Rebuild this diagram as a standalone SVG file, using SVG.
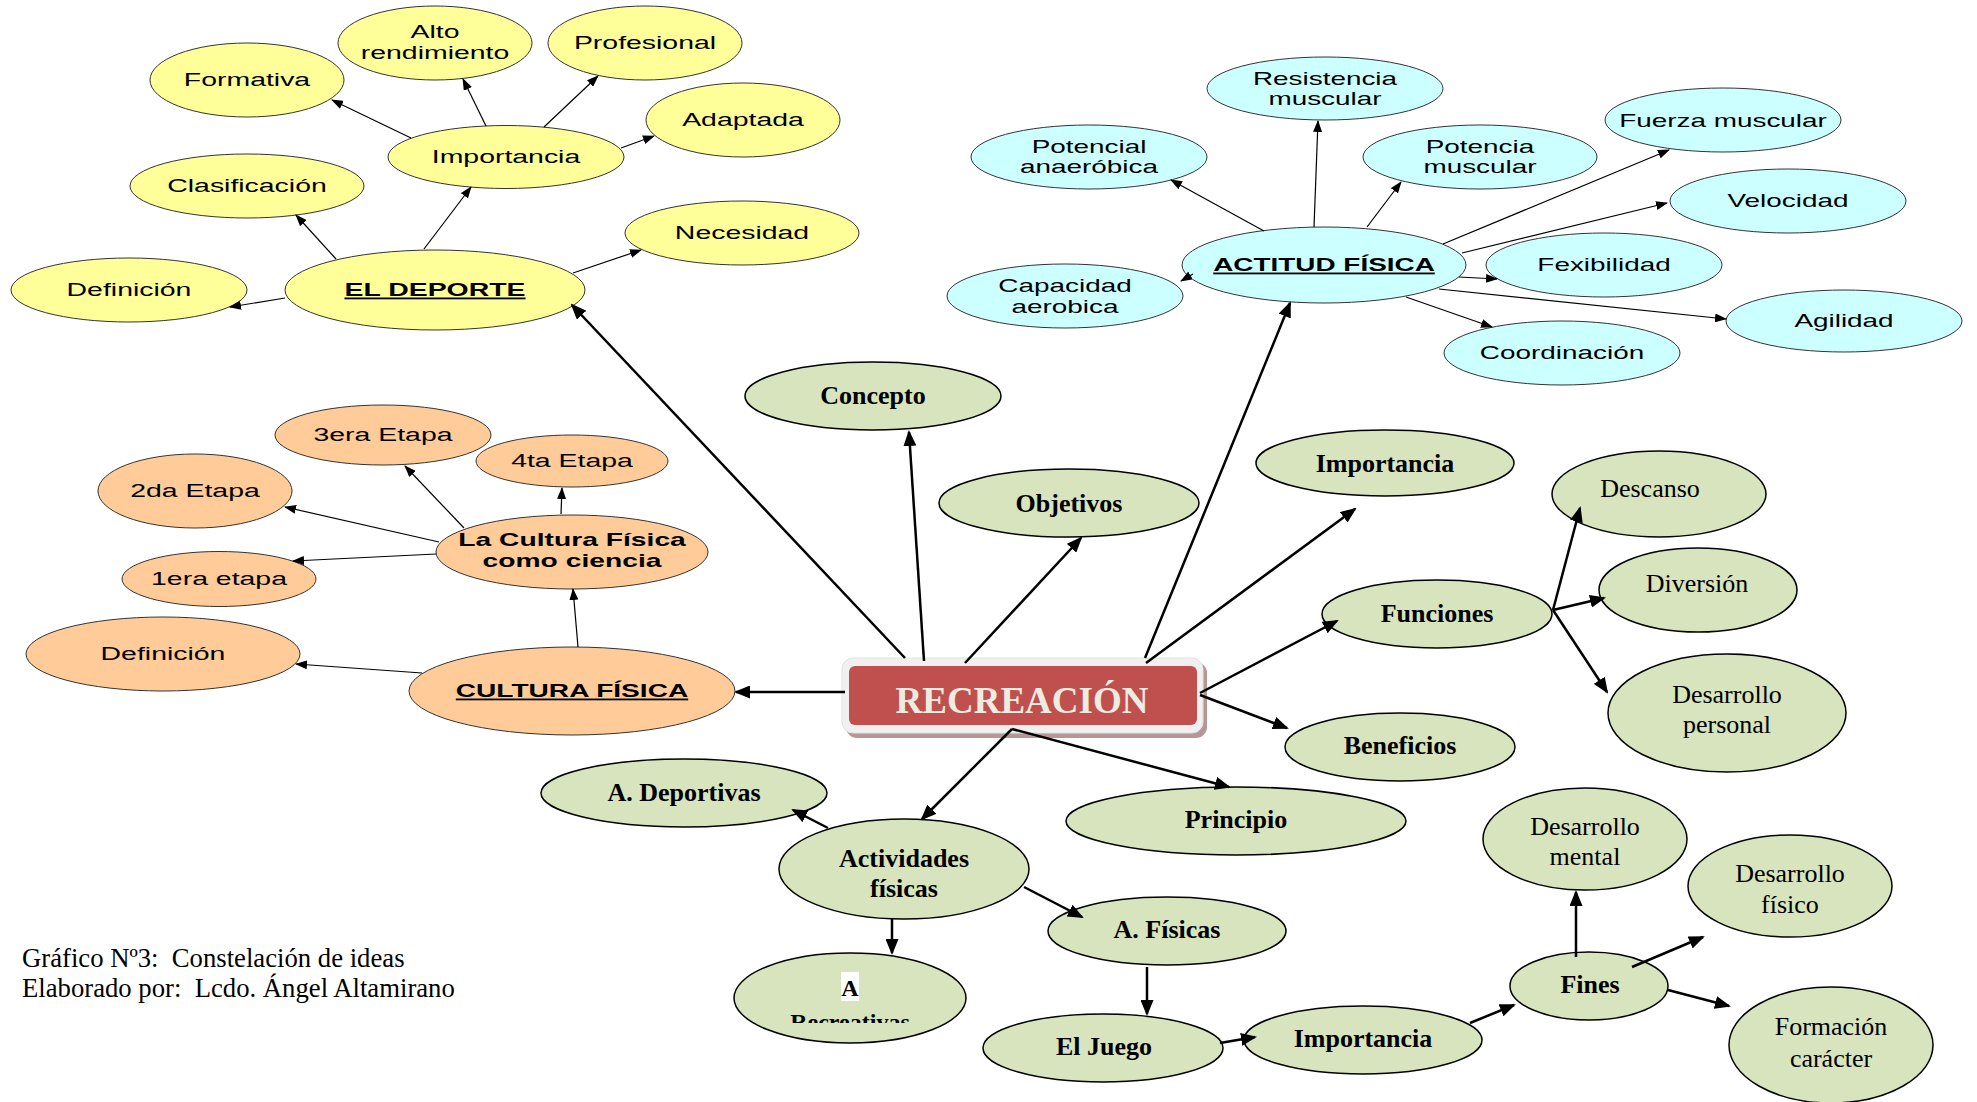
<svg xmlns="http://www.w3.org/2000/svg" width="1977" height="1102" viewBox="0 0 1977 1102">
<style>
.y{fill:#FFFF99;stroke:#333;stroke-width:1}
.b{fill:#CCFFFF;stroke:#333;stroke-width:1}
.o{fill:#FFCC99;stroke:#333;stroke-width:1}
.g{fill:#D7E4BD;stroke:#000;stroke-width:1.5}
.s{font-family:"Liberation Sans",Arial,sans-serif;font-size:18px;fill:#000;text-anchor:middle}
.sb{font-family:"Liberation Sans",Arial,sans-serif;font-size:18px;font-weight:bold;fill:#000;text-anchor:middle}
.u{text-decoration:underline}
.t{font-family:"Liberation Serif","Times New Roman",serif;font-size:26px;font-weight:bold;fill:#000;text-anchor:middle}
.tr{font-family:"Liberation Serif","Times New Roman",serif;font-size:26px;fill:#000;text-anchor:middle}
.cap{font-family:"Liberation Serif","Times New Roman",serif;font-size:26.7px;fill:#000;white-space:pre}
.thin{stroke:#000;stroke-width:1.2;fill:none;marker-end:url(#ah)}
.thick{stroke:#000;stroke-width:2.5;fill:none;marker-end:url(#AH)}
</style>
<defs>
<marker id="ah" viewBox="0 0 12 9" markerWidth="12" markerHeight="9" refX="11" refY="4.5" orient="auto" markerUnits="userSpaceOnUse"><path d="M0,0 L12,4.5 L0,9 z" fill="#000"/></marker>
<marker id="AH" viewBox="0 0 16 13" markerWidth="16" markerHeight="13" refX="14" refY="6.5" orient="auto" markerUnits="userSpaceOnUse"><path d="M0,0 L16,6.5 L0,13 z" fill="#000"/></marker>
<clipPath id="clipRec"><rect x="720" y="940" width="260" height="83"/></clipPath>
</defs>
<rect width="1977" height="1102" fill="#fff"/>

<!-- Yellow: El deporte -->
<g id="y-formativa"><ellipse class="y" cx="247" cy="80" rx="97" ry="37"/><text class="s" transform="translate(247 86) scale(1.58 1)">Formativa</text></g>
<g id="y-alto"><ellipse class="y" cx="435" cy="43" rx="97" ry="37"/><text class="s" transform="translate(435 38) scale(1.58 1)">Alto</text><text class="s" transform="translate(435 59) scale(1.58 1)">rendimiento</text></g>
<g id="y-profesional"><ellipse class="y" cx="645" cy="43" rx="97" ry="37"/><text class="s" transform="translate(645 49) scale(1.58 1)">Profesional</text></g>
<g id="y-adaptada"><ellipse class="y" cx="743" cy="120" rx="97" ry="37"/><text class="s" transform="translate(743 126) scale(1.58 1)">Adaptada</text></g>
<g id="y-importancia"><ellipse class="y" cx="506" cy="157" rx="118" ry="31.5"/><text class="s" transform="translate(506 163) scale(1.58 1)">Importancia</text></g>
<g id="y-clasificacion"><ellipse class="y" cx="247" cy="186" rx="117" ry="32"/><text class="s" transform="translate(247 192) scale(1.58 1)">Clasificación</text></g>
<g id="y-necesidad"><ellipse class="y" cx="742" cy="233" rx="117" ry="32"/><text class="s" transform="translate(742 239) scale(1.58 1)">Necesidad</text></g>
<g id="y-definicion"><ellipse class="y" cx="129" cy="290" rx="118" ry="32"/><text class="s" transform="translate(129 296) scale(1.58 1)">Definición</text></g>
<g id="y-deporte"><ellipse class="y" cx="435" cy="290" rx="150" ry="40"/><text class="sb u" transform="translate(435 296) scale(1.58 1)">EL DEPORTE</text></g>

<!-- Blue: Actitud física -->
<g id="b-resistencia"><ellipse class="b" cx="1325" cy="88.5" rx="118" ry="31.5"/><text class="s" transform="translate(1325 85) scale(1.55 1)">Resistencia</text><text class="s" transform="translate(1325 105) scale(1.55 1)">muscular</text></g>
<g id="b-potencial"><ellipse class="b" cx="1089" cy="157" rx="118" ry="32"/><text class="s" transform="translate(1089 153) scale(1.55 1)">Potencial</text><text class="s" transform="translate(1089 173) scale(1.55 1)">anaeróbica</text></g>
<g id="b-potencia"><ellipse class="b" cx="1480" cy="157" rx="117" ry="32"/><text class="s" transform="translate(1480 153) scale(1.55 1)">Potencia</text><text class="s" transform="translate(1480 173) scale(1.55 1)">muscular</text></g>
<g id="b-fuerza"><ellipse class="b" cx="1723" cy="120" rx="118" ry="32"/><text class="s" transform="translate(1723 127) scale(1.55 1)">Fuerza muscular</text></g>
<g id="b-velocidad"><ellipse class="b" cx="1788" cy="201" rx="118" ry="32"/><text class="s" transform="translate(1788 207) scale(1.55 1)">Velocidad</text></g>
<g id="b-actitud"><ellipse class="b" cx="1324" cy="265" rx="142" ry="38"/><text class="sb u" transform="translate(1324 271) scale(1.55 1)">ACTITUD FÍSICA</text></g>
<g id="b-fexibilidad"><ellipse class="b" cx="1604" cy="265" rx="118" ry="32"/><text class="s" transform="translate(1604 271) scale(1.55 1)">Fexibilidad</text></g>
<g id="b-capacidad"><ellipse class="b" cx="1065" cy="296" rx="118" ry="32"/><text class="s" transform="translate(1065 292) scale(1.55 1)">Capacidad</text><text class="s" transform="translate(1065 313) scale(1.55 1)">aerobica</text></g>
<g id="b-agilidad"><ellipse class="b" cx="1844" cy="321" rx="118" ry="31"/><text class="s" transform="translate(1844 327) scale(1.55 1)">Agilidad</text></g>
<g id="b-coordinacion"><ellipse class="b" cx="1562" cy="353" rx="118" ry="32"/><text class="s" transform="translate(1562 359) scale(1.55 1)">Coordinación</text></g>

<!-- Orange: Cultura física -->
<g id="o-3era"><ellipse class="o" cx="383" cy="435" rx="108" ry="30"/><text class="s" transform="translate(383 441) scale(1.58 1)">3era Etapa</text></g>
<g id="o-4ta"><ellipse class="o" cx="572" cy="461" rx="96" ry="26"/><text class="s" transform="translate(572 467) scale(1.58 1)">4ta Etapa</text></g>
<g id="o-2da"><ellipse class="o" cx="195" cy="491" rx="97" ry="37"/><text class="s" transform="translate(195 497) scale(1.58 1)">2da Etapa</text></g>
<g id="o-ciencia"><ellipse class="o" cx="572" cy="552" rx="136" ry="37"/><text class="sb" transform="translate(572 546) scale(1.57 1)">La Cultura Física</text><text class="sb" transform="translate(572 567) scale(1.57 1)">como ciencia</text></g>
<g id="o-1era"><ellipse class="o" cx="219" cy="579" rx="97" ry="27.5"/><text class="s" transform="translate(219 585) scale(1.58 1)">1era etapa</text></g>
<g id="o-definicion"><ellipse class="o" cx="163" cy="654" rx="137" ry="37"/><text class="s" transform="translate(163 660) scale(1.58 1)">Definición</text></g>
<g id="o-cultura"><ellipse class="o" cx="572" cy="691" rx="163" ry="44"/><text class="sb u" transform="translate(572 697) scale(1.56 1)">CULTURA FÍSICA</text></g>

<!-- Green nodes -->
<g id="g-concepto"><ellipse class="g" cx="873" cy="396" rx="128" ry="34"/><text class="t" x="873" y="404">Concepto</text></g>
<g id="g-objetivos"><ellipse class="g" cx="1069" cy="503" rx="130" ry="34"/><text class="t" x="1069" y="512">Objetivos</text></g>
<g id="g-importancia"><ellipse class="g" cx="1385" cy="463" rx="129" ry="33"/><text class="t" x="1385" y="472">Importancia</text></g>
<g id="g-funciones"><ellipse class="g" cx="1437" cy="614" rx="115" ry="34"/><text class="t" x="1437" y="622">Funciones</text></g>
<g id="g-beneficios"><ellipse class="g" cx="1400" cy="747" rx="115" ry="34"/><text class="t" x="1400" y="754">Beneficios</text></g>
<g id="g-descanso"><ellipse class="g" cx="1659" cy="494" rx="107" ry="43"/><text class="tr" x="1650" y="497">Descanso</text></g>
<g id="g-diversion"><ellipse class="g" cx="1698" cy="590" rx="99" ry="42"/><text class="tr" x="1697" y="592">Diversión</text></g>
<g id="g-desperso"><ellipse class="g" cx="1727" cy="713" rx="119" ry="59"/><text class="tr" x="1727" y="703">Desarrollo</text><text class="tr" x="1727" y="733">personal</text></g>
<g id="g-principio"><ellipse class="g" cx="1236" cy="821" rx="170" ry="34"/><text class="t" x="1236" y="828">Principio</text></g>
<g id="g-adeportivas"><ellipse class="g" cx="684" cy="793" rx="143" ry="34"/><text class="t" x="684" y="801">A. Deportivas</text></g>
<g id="g-actividades"><ellipse class="g" cx="904" cy="869" rx="125" ry="50"/><text class="t" x="904" y="867">Actividades</text><text class="t" x="904" y="897">físicas</text></g>
<g id="g-arecreativas"><ellipse class="g" cx="850" cy="998" rx="116" ry="45"/><rect x="841" y="972" width="18" height="29" fill="#fff"/><text class="t" x="850" y="996" style="font-size:24px">A</text><text class="t" x="850" y="1030" style="font-size:24px" clip-path="url(#clipRec)">Recreativas</text></g>
<g id="g-afisicas"><ellipse class="g" cx="1167" cy="931" rx="119" ry="34"/><text class="t" x="1167" y="938">A. Físicas</text></g>
<g id="g-juego"><ellipse class="g" cx="1103" cy="1048" rx="120" ry="34"/><text class="t" x="1104" y="1055">El Juego</text></g>
<g id="g-importancia2"><ellipse class="g" cx="1363" cy="1040" rx="119" ry="34"/><text class="t" x="1363" y="1047">Importancia</text></g>
<g id="g-fines"><ellipse class="g" cx="1589" cy="986" rx="79" ry="34"/><text class="t" x="1590" y="993">Fines</text></g>
<g id="g-desmental"><ellipse class="g" cx="1585" cy="839" rx="102" ry="51"/><text class="tr" x="1585" y="835">Desarrollo</text><text class="tr" x="1585" y="865">mental</text></g>
<g id="g-desfisico"><ellipse class="g" cx="1790" cy="886" rx="102" ry="51"/><text class="tr" x="1790" y="882">Desarrollo</text><text class="tr" x="1790" y="913">físico</text></g>
<g id="g-formacion"><ellipse class="g" cx="1831" cy="1045" rx="102" ry="58"/><text class="tr" x="1831" y="1035">Formación</text><text class="tr" x="1831" y="1067">carácter</text></g>

<!-- Central node -->
<g id="recreacion">
<rect x="846" y="662" width="361" height="76" rx="11" fill="#B89696"/>
<rect x="842" y="658" width="361" height="75" rx="11" fill="#F0F0F0" stroke="#E2E2E2"/>
<rect x="849" y="666" width="348" height="59" rx="6" fill="#C0504D"/>
<text x="1022" y="713" text-anchor="middle" style="font-family:'Liberation Serif','Times New Roman',serif;font-size:37px;font-weight:bold;fill:#EEECE1">RECREACIÓN</text>
</g>

<!-- Connectors -->
<g id="connectors">
<line class="thin" x1="411" y1="138" x2="332" y2="100"/>
<line class="thin" x1="486" y1="126" x2="463" y2="79"/>
<line class="thin" x1="544" y1="127" x2="598" y2="76"/>
<line class="thin" x1="621" y1="148" x2="654" y2="136"/>
<line class="thin" x1="424" y1="249" x2="471" y2="187"/>
<line class="thin" x1="336" y1="259" x2="296" y2="215"/>
<line class="thin" x1="285" y1="298" x2="230" y2="307"/>
<line class="thin" x1="573" y1="273" x2="641" y2="250"/>

<line class="thin" x1="1264" y1="231" x2="1171" y2="180"/>
<line class="thin" x1="1314" y1="227" x2="1318" y2="121"/>
<line class="thin" x1="1367" y1="227" x2="1401" y2="182"/>
<line class="thin" x1="1443" y1="244" x2="1669" y2="150"/>
<line class="thin" x1="1462" y1="253" x2="1667" y2="203"/>
<line class="thin" x1="1459" y1="277" x2="1497" y2="279"/>
<line class="thin" x1="1439" y1="289" x2="1726" y2="319"/>
<line class="thin" x1="1406" y1="297" x2="1492" y2="327"/>
<line class="thin" x1="1193" y1="274" x2="1181" y2="281"/>

<line class="thin" x1="464" y1="528" x2="405" y2="466"/>
<line class="thin" x1="561" y1="514" x2="562" y2="488"/>
<line class="thin" x1="439" y1="542" x2="285" y2="507"/>
<line class="thin" x1="436" y1="554" x2="293" y2="561"/>
<line class="thin" x1="578" y1="647" x2="573" y2="589"/>
<line class="thin" x1="422" y1="673" x2="296" y2="664"/>

<line class="thick" x1="905" y1="658" x2="572" y2="305"/>
<line class="thick" x1="924" y1="661" x2="909" y2="432"/>
<line class="thick" x1="965" y1="663" x2="1081" y2="538"/>
<line class="thick" x1="1145" y1="658" x2="1290" y2="303"/>
<line class="thick" x1="1146" y1="663" x2="1355" y2="509"/>
<line class="thick" x1="1200" y1="693" x2="1337" y2="621"/>
<line class="thick" x1="1200" y1="695" x2="1287" y2="728"/>
<line class="thick" x1="845" y1="692" x2="736" y2="692"/>
<line class="thick" x1="1012" y1="729" x2="1229" y2="787"/>
<line class="thick" x1="1012" y1="729" x2="922" y2="819"/>
<line class="thick" x1="828" y1="828" x2="793" y2="810"/>
<line class="thick" x1="892" y1="919" x2="892" y2="953"/>
<line class="thick" x1="1024" y1="887" x2="1082" y2="917"/>
<line class="thick" x1="1147" y1="967" x2="1147" y2="1014"/>
<line class="thick" x1="1220" y1="1043" x2="1255" y2="1037"/>
<line class="thick" x1="1470" y1="1023" x2="1514" y2="1005"/>
<line class="thick" x1="1576" y1="957" x2="1576" y2="892"/>
<line class="thick" x1="1632" y1="967" x2="1703" y2="937"/>
<line class="thick" x1="1668" y1="990" x2="1729" y2="1006"/>
<line class="thick" x1="1553" y1="610" x2="1580" y2="508"/>
<line class="thick" x1="1553" y1="610" x2="1604" y2="598"/>
<line class="thick" x1="1553" y1="610" x2="1607" y2="692"/>
</g>

<text class="cap" x="22" y="967">Gráfico Nº3:  Constelación de ideas</text>
<text class="cap" x="22" y="997">Elaborado por:  Lcdo. Ángel Altamirano</text>
</svg>
